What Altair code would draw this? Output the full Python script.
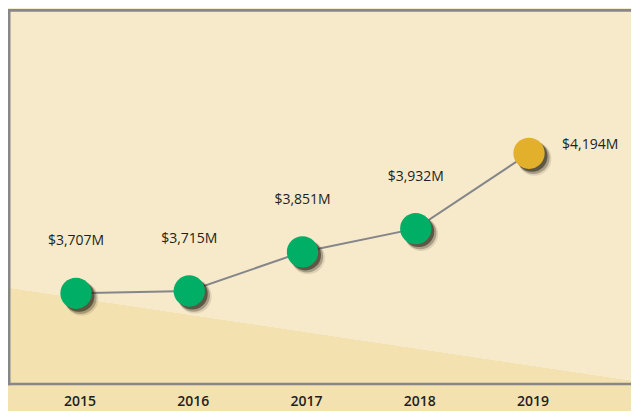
import altair as alt
import pandas as pd

# ---- data ----
years = [2015, 2016, 2017, 2018, 2019]
revenue = [3707, 3715, 3851, 3932, 4194]  # $M

df = pd.DataFrame({"year": years, "revenue": revenue})

# ---- styling ----
W, H = 623, 403
LIGHT = "#f7eacb"
DARK = "#f3e1b0"
GREEN = "#00ae66"
GOLD = "#e3b02c"
FRAME = "#878787"
LINE = "#85868a"
TEXT = "#231f20"
FONT = "Open Sans"

x_scale = alt.Scale(domain=[2015, 2019], range=[68, 521], nice=False, zero=False)
y_scale = alt.Scale(domain=[3707, 4194], range=[285.3, 145.3], nice=False, zero=False)

x_axis = alt.Axis(
    values=years, format="d", title=None, domain=False, ticks=False, grid=False,
    labelFont=FONT, labelFontSize=14, labelFontWeight=600, labelColor=TEXT,
    labelPadding=0, offset=-20, translate=4, labelFlush=False, labelBaseline="top",
    zindex=2,
)

base = alt.Chart(df).encode(
    x=alt.X("year:Q", scale=x_scale, axis=x_axis),
    y=alt.Y("revenue:Q", scale=y_scale, axis=None),
)

deco = alt.Chart(pd.DataFrame({"k": [0]}))

# background with diagonal darker band
bg = deco.mark_rect(
    fill=alt.Gradient(
        gradient="linear",
        stops=[
            alt.GradientStop(color=LIGHT, offset=0),
            alt.GradientStop(color=LIGHT, offset=0.7689),
            alt.GradientStop(color=DARK, offset=0.7689),
            alt.GradientStop(color=DARK, offset=1),
        ],
        x1=0.5, y1=0, x2=0.2697, y2=1,
    )
).encode(x=alt.value(0), x2=alt.value(W), y=alt.value(0), y2=alt.value(H))

frame_left = deco.mark_rule(color=FRAME, strokeWidth=2.6).encode(
    x=alt.value(1.2), y=alt.value(1.1), y2=alt.value(377.3))
frame_top = deco.mark_rule(color=FRAME, strokeWidth=2.6).encode(
    x=alt.value(0), x2=alt.value(W), y=alt.value(2.4))
frame_bottom = deco.mark_rule(color=FRAME, strokeWidth=2.6).encode(
    x=alt.value(0), x2=alt.value(W), y=alt.value(376))

line = base.mark_line(color=LINE, strokeWidth=2)

shadow0 = base.mark_circle(size=1150, color="#2e2816", opacity=0.12, xOffset=5.5, yOffset=5.5)
shadow1 = base.mark_circle(size=1040, color="#2e2816", opacity=0.3, xOffset=4.5, yOffset=4.5)
shadow2 = base.mark_circle(size=960, color="#221d10", opacity=0.55, xOffset=3, yOffset=3)

points = base.mark_circle(size=980, opacity=1).encode(
    color=alt.condition(alt.datum.year == 2019, alt.value(GOLD), alt.value(GREEN))
)

labelled = base.transform_calculate(
    label="'$' + format(datum.revenue, ',') + 'M'"
)
labels = labelled.mark_text(font=FONT, fontSize=14, color=TEXT, dy=-52).encode(
    text="label:N"
).transform_filter("datum.year < 2019")
label_last = labelled.mark_text(
    font=FONT, fontSize=14, color=TEXT, align="left", dx=33, dy=-8
).encode(text="label:N").transform_filter("datum.year == 2019")

chart = alt.layer(
    bg, frame_left, frame_top, frame_bottom, line, shadow0, shadow1, shadow2, points,
    labels, label_last
).properties(
    width=W, height=H, autosize=alt.AutoSizeParams(type="none"), padding=0,
    background=LIGHT,
).configure_view(stroke=None)

chart.save("out.html", embed_options={"renderer": "svg", "actions": False})
